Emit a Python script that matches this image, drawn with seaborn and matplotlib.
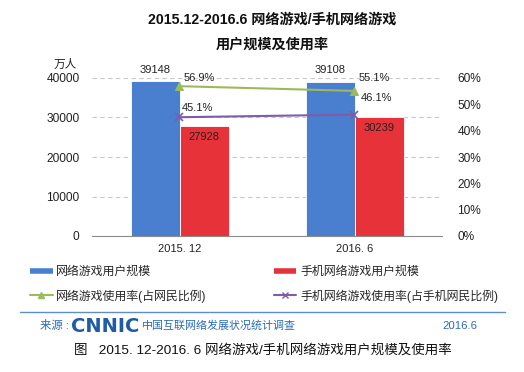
import numpy as np
import pandas as pd
import matplotlib
matplotlib.use("Agg")
import matplotlib.pyplot as plt
from matplotlib.lines import Line2D
import seaborn as sns

# Data
periods = ["2015. 12", "2016. 6"]
pc_users = [39148, 39108]
mobile_users = [27928, 30239]
pc_rate = [56.9, 55.1]
mobile_rate = [45.1, 46.1]
series_names = ["网络游戏用户规模", "手机网络游戏用户规模"]
rate_names = ["网络游戏使用率(占网民比例)", "手机网络游戏使用率(占手机网民比例)"]

blue = "#4a7fd0"
red = "#e8323a"
green = "#9bbb59"
purple = "#7e5ca8"
logo_blue = "#1e5ba8"

sns.set_style("white")
plt.rcParams['font.family'] = ['Liberation Sans', 'Noto Sans CJK SC', 'DejaVu Sans']

W, H = 524, 372
fig = plt.figure(figsize=(W / 100, H / 100), dpi=100)

def fx(px):
    return px / W

def fy(py):
    return 1 - py / H

ax = fig.add_axes([fx(92), fy(236), fx(350), 158 / H])

df = pd.DataFrame({
    "period": periods * 2,
    "users": pc_users + mobile_users,
    "series": [series_names[0]] * 2 + [series_names[1]] * 2,
})
sns.barplot(data=df, x="period", y="users", hue="series", palette=[blue, red],
            width=0.56, gap=0, saturation=1, edgecolor="white", linewidth=0.6,
            ax=ax, legend=False, zorder=2)

ax.set_xlim(-0.5, 1.5)
ax.set_ylim(0, 40000)
ax.set_yticks([0, 10000, 20000, 30000, 40000])
ax.yaxis.grid(True, linestyle=(0, (4, 3)), color="#c8c8c8", linewidth=0.8)
ax.set_axisbelow(True)
ax.set_xlabel("")
ax.set_ylabel("")
for s in ["top", "right", "left"]:
    ax.spines[s].set_visible(False)
ax.spines["bottom"].set_color("#8c8c8c")
ax.tick_params(axis="y", length=0, pad=9, labelsize=8.6, colors="#222222")
ax.tick_params(axis="x", length=0, pad=6, labelsize=8, colors="#222222")
ax.set_xticks([-0.5, 0.5, 1.5], minor=True)
ax.tick_params(axis="x", which="minor", length=3, direction="in", color="#8c8c8c")

# bar value labels
for cont, off in zip(ax.containers, [8, -8.5]):
    for bar in cont:
        h = bar.get_height()
        ax.annotate(f"{int(round(h))}", (bar.get_x() + bar.get_width() / 2, h),
                    xytext=(0, off), textcoords="offset points",
                    ha="center", va="center", fontsize=8, color="#222222")

ax2 = ax.twinx()
ax2.set_ylim(0, 60)
ax2.set_yticks(range(0, 61, 10))
ax2.set_yticklabels([f"{v}%" for v in range(0, 61, 10)])
for s in ax2.spines.values():
    s.set_visible(False)
ax2.tick_params(axis="y", length=0, pad=11, labelsize=8.6, colors="#222222")

xpos = [0, 1]
sns.lineplot(x=xpos, y=pc_rate, color=green, marker="^", markersize=6,
             markeredgecolor=green, linewidth=1.5, ax=ax2)
sns.lineplot(x=xpos, y=mobile_rate, color=purple, marker="x", markersize=6,
             markeredgecolor=purple, markeredgewidth=1.2, linewidth=1.5, ax=ax2)

offsets_pc = [(14, 6), (14, 9.5)]
offsets_mob = [(13, 6.5), (16, 12)]
for x, v, o in zip(xpos, pc_rate, offsets_pc):
    ax2.annotate(f"{v}%", (x, v), xytext=o, textcoords="offset points",
                 ha="center", va="center", fontsize=8, color="#222222")
for x, v, o in zip(xpos, mobile_rate, offsets_mob):
    ax2.annotate(f"{v}%", (x, v), xytext=o, textcoords="offset points",
                 ha="center", va="center", fontsize=8, color="#222222")

# titles
fig.text(fx(272), fy(20), "2015.12-2016.6 网络游戏/手机网络游戏", ha="center", va="center",
         fontsize=10.2, fontweight="bold", color="#111111")
fig.text(fx(272), fy(45), "用户规模及使用率", ha="center", va="center",
         fontsize=10.2, fontweight="bold", color="#111111")
fig.text(fx(65), fy(65), "万人", ha="center", va="center", fontsize=8.4, color="#222222")

# legend (filled column by column)
handles = [
    Line2D([], [], color=blue, lw=4, solid_capstyle="butt"),
    Line2D([], [], color=green, lw=1.5, marker="^", markersize=5),
    Line2D([], [], color=red, lw=4, solid_capstyle="butt"),
    Line2D([], [], color=purple, lw=1.5, marker="x", markersize=5),
]
labels = [series_names[0], rate_names[0], series_names[1], rate_names[1]]
fig.legend(handles, labels, ncol=2,
           loc="upper left", bbox_to_anchor=(fx(30), fy(266)), frameon=False,
           fontsize=8.6, handlelength=1.9, handletextpad=0.3, columnspacing=5.6,
           labelspacing=0.95, borderaxespad=0, borderpad=0)

# separator and source line
fig.add_artist(Line2D([fx(20), fx(505)], [fy(312), fy(312)], color="#5b8fc8", lw=1))
fig.text(fx(40), fy(326), "来源 :", ha="left", va="center", fontsize=8.2, color="#2a6cb8")
fig.text(fx(71), fy(326), "CNNIC", ha="left", va="center", fontsize=14, fontweight="heavy",
         color=logo_blue, family="DejaVu Sans")
fig.text(fx(142), fy(326), "中国互联网络发展状况统计调查", ha="left", va="center",
         fontsize=7.9, color="#2a6cb8")
fig.text(fx(460), fy(326), "2016.6", ha="center", va="center", fontsize=8.2, color="#2a6cb8")

fig.text(fx(263), fy(350), "图   2015. 12-2016. 6 网络游戏/手机网络游戏用户规模及使用率",
         ha="center", va="center", fontsize=9.7, color="#111111")

fig.savefig("out.png", dpi=100)
